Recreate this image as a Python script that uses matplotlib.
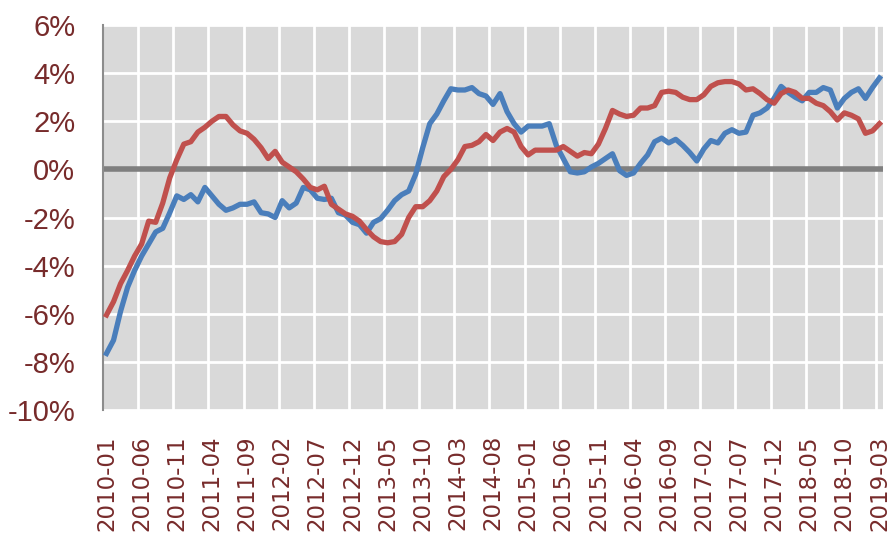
import numpy as np
import matplotlib
matplotlib.use("Agg")
import matplotlib.pyplot as plt

# monthly series, 2010-01 .. 2019-03 (percent)
blue = [-7.65, -7.1, -5.9, -4.9, -4.2, -3.6, -3.1, -2.6, -2.45, -1.8,
        -1.1, -1.25, -1.05, -1.35, -0.75, -1.1, -1.45, -1.7, -1.6, -1.45,
        -1.45, -1.35, -1.8, -1.85, -2.0, -1.3, -1.6, -1.4, -0.75, -0.85,
        -1.2, -1.25, -1.2, -1.8, -1.9, -2.2, -2.3, -2.65, -2.2, -2.05,
        -1.7, -1.3, -1.05, -0.9, -0.2, 0.9, 1.9, 2.3, 2.85, 3.35,
        3.3, 3.3, 3.4, 3.15, 3.05, 2.7, 3.15, 2.4, 1.9, 1.55,
        1.8, 1.8, 1.8, 1.9, 1.0, 0.45, -0.1, -0.15, -0.1, 0.1,
        0.25, 0.45, 0.65, -0.05, -0.25, -0.15, 0.25, 0.6, 1.15, 1.3,
        1.1, 1.25, 1.0, 0.7, 0.35, 0.85, 1.2, 1.1, 1.5, 1.65,
        1.5, 1.55, 2.25, 2.35, 2.55, 2.95, 3.45, 3.2, 3.0, 2.85,
        3.2, 3.2, 3.4, 3.3, 2.55, 2.95, 3.2, 3.35, 2.95, 3.4,
        3.8]
red = [-6.05, -5.5, -4.75, -4.2, -3.6, -3.1, -2.15, -2.2, -1.4, -0.35,
       0.4, 1.05, 1.15, 1.55, 1.75, 2.0, 2.2, 2.2, 1.85, 1.6,
       1.5, 1.25, 0.9, 0.45, 0.75, 0.3, 0.1, -0.1, -0.4, -0.75,
       -0.85, -0.7, -1.45, -1.65, -1.85, -1.95, -2.15, -2.5, -2.8, -3.0,
       -3.05, -3.0, -2.7, -2.0, -1.55, -1.55, -1.3, -0.9, -0.3, 0.0,
       0.4, 0.95, 1.0, 1.15, 1.45, 1.2, 1.55, 1.7, 1.55, 0.95,
       0.6, 0.8, 0.8, 0.8, 0.8, 0.95, 0.75, 0.55, 0.7, 0.65,
       1.05, 1.7, 2.45, 2.3, 2.2, 2.25, 2.55, 2.55, 2.65, 3.2,
       3.25, 3.2, 3.0, 2.9, 2.9, 3.1, 3.45, 3.6, 3.65, 3.65,
       3.55, 3.3, 3.35, 3.15, 2.9, 2.75, 3.15, 3.3, 3.2, 2.95,
       2.95, 2.75, 2.65, 2.4, 2.05, 2.35, 2.25, 2.1, 1.5, 1.6,
       1.9]

months = [f"{2010 + k // 12}-{k % 12 + 1:02d}" for k in range(len(blue))]
x = np.arange(len(months))

label_color = "#772B2B"

fig = plt.figure(figsize=(8.94, 5.38), dpi=100)
ax = fig.add_axes([0.1152, 0.2379, 0.8725, 0.7156])
ax.set_facecolor("#D9D9D9")

ax.set_xlim(-0.5, len(months) - 0.5)
ax.set_ylim(-10, 6)

# gridlines
for yv in range(-10, 7, 2):
    ax.axhline(yv, color="white", lw=2, zorder=1)
for xv in np.arange(4.5, len(months) - 1, 5):
    ax.axvline(xv, color="white", lw=2, zorder=1)
ax.axhline(0, color="#7F7F7F", lw=4, zorder=2)

ax.plot(x, blue, color="#4A7EBB", lw=3.8, zorder=3, solid_joinstyle="round")
ax.plot(x, red, color="#C0504D", lw=3.8, zorder=4, solid_joinstyle="round")

ax.set_yticks(range(-10, 7, 2))
ax.set_yticklabels([f"{v}%" for v in range(-10, 7, 2)],
                   family="Liberation Sans", fontsize=21, color=label_color)
ticks = x[::5]
ax.set_xticks(ticks)
ax.set_xticklabels([months[i] for i in ticks], rotation=90,
                   fontsize=16.5, color=label_color)
ax.tick_params(axis="y", length=0, pad=20)
ax.tick_params(axis="x", length=0, pad=18)

for s in ["top", "right", "bottom"]:
    ax.spines[s].set_visible(False)
ax.spines["left"].set_color("#8C8C8C")
ax.spines["left"].set_linewidth(1.5)

fig.savefig("out.png", dpi=100)
